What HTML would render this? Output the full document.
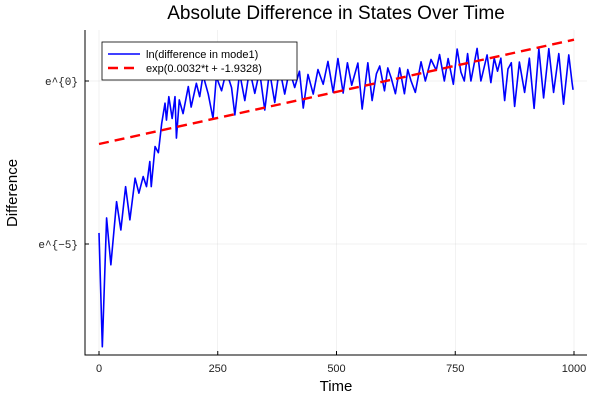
<!DOCTYPE html>
<html><head><meta charset="utf-8"><style>body{margin:0;background:#fff}svg{font-family:"Liberation Sans",sans-serif}</style></head>
<body>
<svg id="c" width="600" height="400"></svg>
<script>
const tVals=[0,7,16,25,37,46,56,65,76,84,93,100,107,110,118,125,132,139,142,147,154,160,163,169,177,188,194,205,212,219,230,240,247,258,268,279,286,296,307,317,328,338,349,359,370,380,391,401,412,422,430,440,451,461,472,482,493,503,514,523,532,545,554,566,575,584,591,601,608,615,624,633,643,650,657,666,678,687,699,710,717,727,735,746,754,762,769,776,783,796,804,817,825,832,839,846,854,861,868,875,885,896,906,916,926,936,947,957,968,978,989,996,998];
const diffVals=[-4.66,-8.15,-4.2,-5.64,-3.7,-4.57,-3.24,-4.26,-2.98,-3.44,-2.93,-3.24,-2.47,-3.24,-2.01,-2.2,-1.3,-0.68,-1.2,-0.48,-1.15,-0.48,-1.75,-0.58,-1.0,-0.17,-0.8,-0.07,-0.48,0.18,-0.4,-1.15,0.13,-0.3,0.3,-0.2,-1.04,0.25,-0.6,0.35,-0.38,0.3,-0.89,0.3,-0.66,0.4,-0.4,0.35,-0.2,0.3,-0.83,0.2,-0.4,0.35,-0.1,0.6,-0.35,0.69,-0.37,0.56,-0.13,0.55,-0.86,0.56,-0.6,0.22,0.46,-0.3,0.4,0.1,-0.39,0.4,-0.39,0.35,0,-0.35,0.59,0,0.66,0.33,0.81,0,0.69,-0.1,0.98,0.27,0,0.84,0,1.0,0,0.8,-0.05,0.7,0.3,0.7,-0.6,0.37,0.56,-0.78,0.58,-0.35,0.7,-0.84,0.99,-0.52,0.99,-0.35,0.84,-0.71,0.8,-0.06,-0.27];
const fitSlope=0.0032, fitIntercept=-1.9328;
const xTicks=[0,250,500,750,1000];
const yTicks=[0,-5];
const yTickLabels=["e^{0}","e^{−5}"];
const L=85,R=587,T=30,B=355;
const X=t=>99+t*0.475;
const Y=v=>81-v*32.6;
const svg=document.getElementById('c');
const NS='http://www.w3.org/2000/svg';
function mk(tag,attrs,parent){const e=document.createElementNS(NS,tag);for(const k in attrs)e.setAttribute(k,attrs[k]);(parent||svg).appendChild(e);return e;}
xTicks.forEach(t=>{
 const g=mk('line',{x1:X(t),x2:X(t),y1:T,y2:B,stroke:'#000','stroke-opacity':0.1,'stroke-width':0.5});
 
 
 const tk=mk('line',{x1:X(t),x2:X(t),y1:B,y2:B-4,stroke:'#000'});
 
 
 const lb=mk('text',{x:X(t),y:372,'text-anchor':'middle','font-size':11,fill:'#222'});lb.textContent=t;
 
 
});
yTicks.forEach((v,i)=>{
 const g=mk('line',{x1:L,x2:R,y1:Y(v),y2:Y(v),stroke:'#000','stroke-opacity':0.1,'stroke-width':0.5});
 
 
 const tk=mk('line',{x1:L,x2:L+4,y1:Y(v),y2:Y(v),stroke:'#000'});
 
 
 const lb=mk('text',{x:78,y:Y(v)+4,'text-anchor':'end','font-size':11,fill:'#222','font-family':'Liberation Mono, monospace'});lb.textContent=yTickLabels[i];
 
 
});
const ax=mk('path',{d:`M${L},${T}V${B}H${R}`,fill:'none',stroke:'#000','stroke-width':1});


const series=mk('polyline',{points:tVals.map((t,i)=>X(t)+','+Y(diffVals[i])).join(' '),fill:'none',stroke:'#0000ff','stroke-width':1.6,'stroke-linejoin':'round'});


const fit=mk('line',{x1:X(0),y1:Y(fitIntercept),x2:X(1000),y2:Y(fitIntercept+fitSlope*1000),stroke:'#ff0000','stroke-width':2.4,'stroke-dasharray':'10 6'});


const lg=mk('g',{});


mk('rect',{x:102,y:42,width:195,height:38,fill:'#fff',stroke:'#000','stroke-width':0.8},lg);
mk('line',{x1:108,x2:140,y1:54,y2:54,stroke:'#0000ff','stroke-width':1.6},lg);
mk('line',{x1:108,x2:140,y1:68,y2:68,stroke:'#ff0000','stroke-width':2.4,'stroke-dasharray':'10 6'},lg);
const l1=mk('text',{x:146,y:58,'font-size':11},lg);l1.textContent='ln(difference in mode1)';


const l2=mk('text',{x:146,y:72,'font-size':11},lg);l2.textContent='exp(0.0032*t + -1.9328)';


const ti=mk('text',{x:336,y:19,'text-anchor':'middle','font-size':19});ti.textContent='Absolute Difference in States Over Time';


const xl=mk('text',{x:336,y:391,'text-anchor':'middle','font-size':15});xl.textContent='Time';


const yl=mk('text',{x:0,y:0,'text-anchor':'middle','font-size':15,transform:'translate(17,193) rotate(-90)'});yl.textContent='Difference';


</script>
</body></html>
